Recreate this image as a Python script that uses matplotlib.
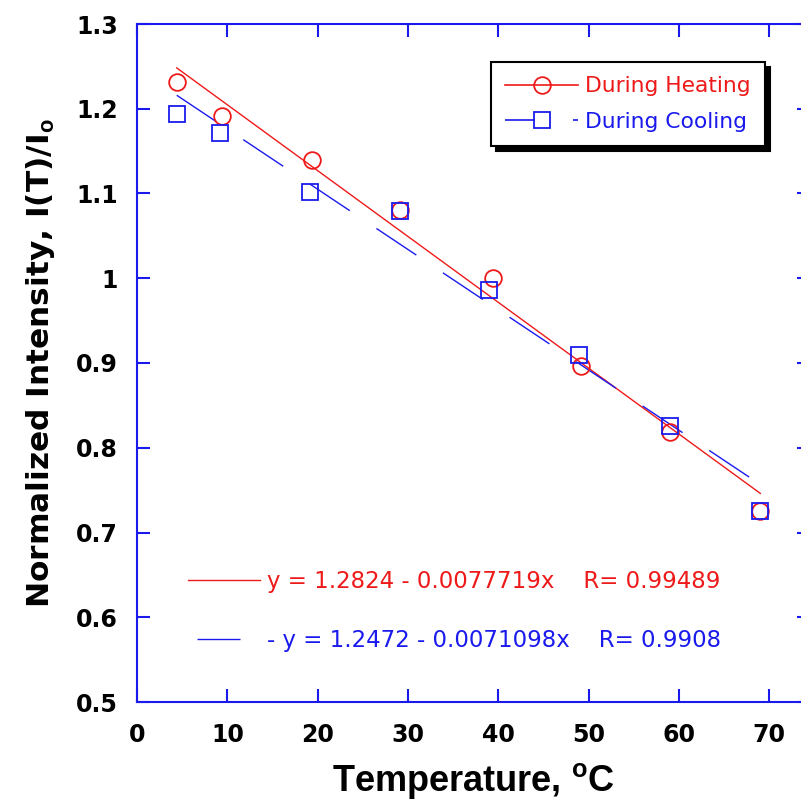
import numpy as np
import matplotlib
matplotlib.use("Agg")
import matplotlib.pyplot as plt
from matplotlib.lines import Line2D
from matplotlib.patches import Shadow
from matplotlib.ticker import FuncFormatter

plt.rcParams['lines.scale_dashes'] = False
plt.rcParams['mathtext.fontset'] = 'custom'
plt.rcParams['mathtext.rm'] = 'Liberation Sans:bold'
plt.rcParams['mathtext.bf'] = 'Liberation Sans:bold'

# ---------------- data ----------------
temp_heating = [4.4, 9.45, 19.4, 29.1, 39.4, 49.2, 59.0, 69.0]
intensity_heating = [1.231, 1.192, 1.1395, 1.080, 1.000, 0.896, 0.8185, 0.725]
temp_cooling = [4.4, 9.2, 19.2, 29.1, 39.0, 48.9, 59.0, 69.0]
intensity_cooling = [1.1935, 1.1717, 1.102, 1.0794, 0.986, 0.909, 0.8255, 0.725]

fit_heating_intercept = 1.2824
fit_heating_slope = -0.0077719
fit_heating_R = "0.99489"
fit_cooling_intercept = 1.2472
fit_cooling_slope = -0.0071098
fit_cooling_R = "0.9908"
fit_x_range = [4.4, 69.0]

x_ticks = [0, 10, 20, 30, 40, 50, 60, 70]
y_ticks = [0.5, 0.6, 0.7, 0.8, 0.9, 1.0, 1.1, 1.2, 1.3]

RED = '#ee1a1a'
BLUE = '#1a1aee'
PX = 0.72  # points per pixel at 100 dpi

fig = plt.figure(figsize=(8.01, 8.0), dpi=100)
ax = fig.add_axes([137/801, 98/800, 673/801, 678/800])

# fit lines
fx = np.array(fit_x_range)
ax.plot(fx, fit_heating_intercept + fit_heating_slope*fx, color=RED, lw=1.0, zorder=2)
ax.plot(fx, fit_cooling_intercept + fit_cooling_slope*fx, color=BLUE, lw=1.0,
        linestyle=(0, (48*PX, 32*PX)), zorder=2)

# data markers
ax.plot(temp_heating, intensity_heating, linestyle='none', marker='o', ms=12,
        mfc='none', mec=RED, mew=1.3, zorder=3)
ax.plot(temp_cooling, intensity_cooling, linestyle='none', marker='s', ms=11.5,
        mfc='none', mec=BLUE, mew=1.3, zorder=3)

ax.set_xlim(0, 74.5)
ax.set_ylim(0.5, 1.3)
ax.set_xticks(x_ticks)
ax.set_yticks(y_ticks)
ax.yaxis.set_major_formatter(FuncFormatter(lambda v, p: f"{v:g}"))

for sp in ax.spines.values():
    sp.set_color(BLUE)
    sp.set_linewidth(1.5)

ax.tick_params(axis='both', direction='in', length=9.5, width=1.5, color=BLUE,
               top=True, right=True, labelcolor='black')
ax.tick_params(axis='x', pad=15)
ax.tick_params(axis='y', pad=13.7)
for lab in ax.get_xticklabels() + ax.get_yticklabels():
    lab.set_fontfamily('DejaVu Sans')
    lab.set_fontweight('bold')
    lab.set_fontsize(17)

ax.set_xlabel(r'Temperature, $^{\mathrm{o}}$C', family='Liberation Sans',
              fontweight='bold', fontsize=26, labelpad=10)
ax.set_ylabel(r'Normalized Intensity, I(T)/I$_{\mathrm{o}}$', family='DejaVu Sans',
              fontweight='bold', fontsize=22.5, labelpad=14)

# top legend
h_heat = Line2D([], [], color=RED, lw=1.2, marker='o', ms=12, mfc='none', mec=RED, mew=1.3)
h_cool = Line2D([], [], color=BLUE, lw=1.2, marker='s', ms=11.5, mfc='none', mec=BLUE, mew=1.3,
                linestyle=(0, (30*PX, 38*PX, 5*PX, 100)))
leg = ax.legend([h_heat, h_cool], ['During Heating', 'During Cooling'],
                loc='upper left', bbox_to_anchor=(0.526, 0.944), borderaxespad=0,
                prop={'family': 'DejaVu Sans', 'size': 15.7},
                labelcolor=[RED, BLUE], handlelength=3.35, handletextpad=0.32,
                borderpad=0.65, labelspacing=0.72, numpoints=1,
                fancybox=False, framealpha=1, edgecolor='black')
leg.get_frame().set_linewidth(1.5)
leg.set_zorder(6)
ax.add_artist(leg)
shadow = Shadow(leg.legendPatch, 3.6, -3.6, facecolor='black', edgecolor='black', alpha=1)
shadow.set_zorder(5.5)
ax.add_artist(shadow)

# regression legend
r_heat = Line2D([], [], color=RED, lw=1.0)
r_cool = Line2D([], [], color=BLUE, lw=1.0, linestyle=(63*PX, (43*PX, 29*PX)))
lab_heat = f"y = {fit_heating_intercept:.4f} - {-fit_heating_slope:.7f}x    R= {fit_heating_R}"
lab_cool = f"- y = {fit_cooling_intercept:.4f} - {-fit_cooling_slope:.7f}x    R= {fit_cooling_R}"
leg2 = ax.legend([r_heat, r_cool], [lab_heat, lab_cool],
                 loc='upper left', bbox_to_anchor=(0.0758, 0.195), borderaxespad=0,
                 prop={'family': 'DejaVu Sans', 'size': 16.5},
                 labelcolor=[RED, BLUE], handlelength=72/22.9, handletextpad=7/22.9,
                 borderpad=0, labelspacing=1.585, frameon=False)

fig.canvas.draw()
fig.savefig('out.png', dpi=100)
